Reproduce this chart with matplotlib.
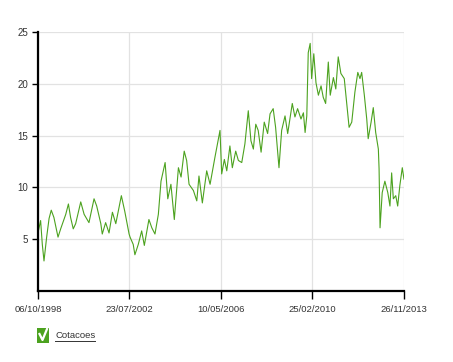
import matplotlib.pyplot as plt
from matplotlib.patches import Rectangle
from matplotlib.lines import Line2D

# decimal year / price pairs
years = [1998.76, 1998.87, 1998.94, 1999.01, 1999.12, 1999.22, 1999.31, 1999.42, 1999.59, 1999.70,
         1999.91, 2000.02, 2000.11, 2000.22, 2000.32, 2000.53, 2000.67, 2000.87, 2001.08, 2001.19,
         2001.36, 2001.42, 2001.56, 2001.70, 2001.84, 2001.98, 2002.21, 2002.35, 2002.53, 2002.57,
         2002.70, 2002.77, 2002.91, 2003.05, 2003.16, 2003.35, 2003.47, 2003.60, 2003.74, 2003.85,
         2004.02, 2004.13, 2004.26, 2004.40, 2004.57, 2004.68, 2004.81, 2004.91, 2005.01, 2005.19,
         2005.33, 2005.42, 2005.56, 2005.74, 2005.88, 2006.08, 2006.29, 2006.36, 2006.47, 2006.57,
         2006.70, 2006.80, 2006.94, 2007.05, 2007.19, 2007.32, 2007.46, 2007.57, 2007.67, 2007.77,
         2007.87, 2007.99, 2008.12, 2008.26, 2008.36, 2008.49, 2008.59, 2008.73, 2008.84, 2008.98,
         2009.09, 2009.28, 2009.39, 2009.50, 2009.64, 2009.74, 2009.81, 2009.88, 2009.94, 2010.02,
         2010.08, 2010.17, 2010.26, 2010.36, 2010.47, 2010.56, 2010.66, 2010.77, 2010.85, 2010.98,
         2011.08, 2011.18, 2011.29, 2011.43, 2011.53, 2011.63, 2011.74, 2011.87, 2011.99, 2012.08,
         2012.15, 2012.26, 2012.36, 2012.42, 2012.54, 2012.63, 2012.73, 2012.84, 2012.87, 2012.91,
         2013.00, 2013.11, 2013.23, 2013.32, 2013.39, 2013.46, 2013.56, 2013.64, 2013.73, 2013.83,
         2013.90]
prices = [5.6, 6.8, 4.5, 2.9, 5.2, 7.0, 7.8, 7.1, 5.2, 6.0,
          7.4, 8.4, 7.1, 6.0, 6.5, 8.6, 7.4, 6.6, 8.9, 8.2,
          6.5, 5.5, 6.6, 5.6, 7.6, 6.5, 9.2, 7.7, 5.5, 5.2,
          4.5, 3.5, 4.5, 5.8, 4.4, 6.9, 6.1, 5.5, 7.4, 10.6,
          12.4, 8.9, 10.3, 6.9, 11.9, 11.0, 13.5, 12.6, 10.3, 9.7,
          8.7, 11.1, 8.5, 11.6, 10.3, 12.9, 15.5, 11.3, 12.7, 11.6,
          14.0, 11.9, 13.5, 12.6, 12.4, 14.2, 17.4, 14.5, 13.7, 16.1,
          15.5, 13.4, 16.3, 15.2, 17.1, 17.6, 15.8, 11.9, 15.5, 16.9,
          15.2, 18.1, 16.8, 17.6, 16.6, 17.2, 15.3, 16.9, 23.0, 23.9,
          20.5, 22.9, 20.1, 18.9, 19.8, 18.7, 18.1, 22.1, 18.9, 20.6,
          19.5, 22.6, 21.0, 20.5, 18.2, 15.8, 16.3, 19.2, 21.1, 20.5,
          21.1, 18.9, 16.6, 14.7, 16.3, 17.7, 15.3, 13.7, 11.8, 6.1,
          9.5, 10.6, 9.5, 8.2, 11.4, 8.9, 9.2, 8.2, 10.2, 11.9,
          10.8]

x_labels = ['06/10/1998', '23/07/2002', '10/05/2006', '25/02/2010', '26/11/2013']
x_ticks = [1998.762, 2002.546, 2006.331, 2010.116, 2013.901]
y_ticks = [5, 10, 15, 20, 25]

green = '#4ca21f'
txt = '#333333'
font = ['Liberation Sans Narrow', 'Liberation Sans', 'DejaVu Sans']

fig = plt.figure(figsize=(4.53, 3.62), dpi=100)
ax = fig.add_axes([38/453, 1-291/362, 366/453, 259/362])

ax.plot(years, prices, color=green, lw=0.8)

ax.set_xlim(x_ticks[0], x_ticks[-1])
ax.set_ylim(0, 25)
ax.set_xticks(x_ticks)
ax.set_xticklabels(x_labels, family=font, fontsize=6.8, color=txt)
ax.set_yticks(y_ticks)
ax.set_yticklabels([str(v) for v in y_ticks], family=font, fontsize=7, color=txt)
ax.grid(True, color='#e2e2e2', lw=0.9)
ax.set_axisbelow(True)
for s in ['top', 'right']:
  ax.spines[s].set_visible(False)
for s in ['left', 'bottom']:
  ax.spines[s].set_linewidth(1.6)
  ax.spines[s].set_color('black')
ax.tick_params(axis='x', length=6, width=1, pad=4)
ax.tick_params(axis='y', length=4, width=1, pad=3)

# legend: green check box + underlined label
fig.patches.append(Rectangle((37/453, 1-343/362), 12/453, 15/362, transform=fig.transFigure,
                             facecolor=green, edgecolor='none'))
fig.lines.append(Line2D([39.5/453, 42.5/453, 47/453], [1-334/362, 1-340/362, 1-329/362],
                        transform=fig.transFigure, color='white', lw=1.6))
fig.text(55/453, 1-336/362, 'Cotacoes', family=font, fontsize=6.8, color=txt, va='center')
fig.lines.append(Line2D([55/453, 95/453], [1-340.5/362, 1-340.5/362], transform=fig.transFigure,
                        color=txt, lw=0.7))

fig.savefig('out.png', dpi=100)
